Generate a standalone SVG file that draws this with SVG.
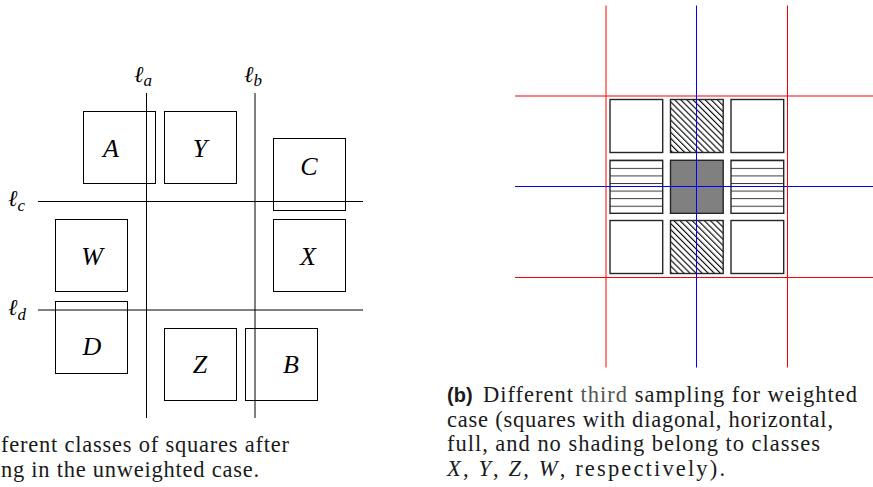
<svg xmlns="http://www.w3.org/2000/svg" width="873" height="487" viewBox="0 0 873 487">
  <style>
    .bg { fill: #ffffff; }
    .ln { stroke: #000; stroke-width: 1; fill: none; }
    .sq { fill: none; stroke: #000; stroke-width: 1; }
    .red { stroke: #ff0000; stroke-width: 1; fill: none; }
    .blue { stroke: #0000ff; stroke-width: 1; fill: none; }
    .cell { stroke: #262626; stroke-width: 1.4; }
    .lbl { font-family: "Liberation Serif", "DejaVu Serif", serif; font-style: italic; font-size: 26px; fill: #000; text-anchor: middle; }
    .ell { font-family: "Liberation Serif", "DejaVu Serif", serif; font-style: italic; font-size: 23px; fill: #000; }
    .sub { font-size: 17px; }
    .cap { font-family: "Liberation Serif", "DejaVu Serif", serif; font-size: 22.5px; fill: #1a1a1a; }
    .tag { font-family: "Liberation Sans", Arial, sans-serif; font-weight: bold; font-size: 20px; fill: #1a1a1a; }
    .it { font-style: italic; }
  </style>
  <defs>
    <!-- horizontal shading, period = cell height / 7 -->
    <pattern id="hlines" patternUnits="userSpaceOnUse" x="0" y="160.3" width="20" height="7.571">
      <line x1="0" y1="0" x2="20" y2="0" stroke="#3a3a3a" stroke-width="2"/>
    </pattern>
    <!-- diagonal shading, top-left to bottom-right -->
    <pattern id="dlines" patternUnits="userSpaceOnUse" width="12" height="4.3" patternTransform="rotate(45)">
      <line x1="0" y1="2" x2="12" y2="2" stroke="#000" stroke-width="1.1"/>
    </pattern>
  </defs>

  <rect class="bg" x="0" y="0" width="873" height="487"/>

  <!-- left figure: cutting lines -->
  <g id="lines-left">
    <line class="ln" x1="146.5" y1="93" x2="146.5" y2="418"/>
    <line class="ln" x1="255" y1="93" x2="255" y2="418"/>
    <line class="ln" x1="38" y1="201.5" x2="363" y2="201.5"/>
    <line class="ln" x1="38" y1="310" x2="363" y2="310"/>
  </g>
  <g id="line-labels">
    <text class="ell" x="134" y="82">ℓ<tspan class="sub" dy="4">a</tspan></text>
    <text class="ell" x="244" y="82">ℓ<tspan class="sub" dy="4">b</tspan></text>
    <text class="ell" x="8" y="206">ℓ<tspan class="sub" dy="5">c</tspan></text>
    <text class="ell" x="8" y="315">ℓ<tspan class="sub" dy="5">d</tspan></text>
  </g>

  <!-- left figure: squares -->
  <g id="sq-A"><rect class="sq" x="83.5" y="111.5" width="72" height="72"/><text class="lbl" x="111" y="157">A</text></g>
  <g id="sq-Y"><rect class="sq" x="164.5" y="111.5" width="72" height="72"/><text class="lbl" x="200" y="157">Y</text></g>
  <g id="sq-C"><rect class="sq" x="273.5" y="138.5" width="72" height="72"/><text class="lbl" x="309" y="175">C</text></g>
  <g id="sq-W"><rect class="sq" x="55.5" y="219.5" width="72" height="72"/><text class="lbl" x="92" y="265">W</text></g>
  <g id="sq-X"><rect class="sq" x="273.5" y="219.5" width="72" height="72"/><text class="lbl" x="308" y="265">X</text></g>
  <g id="sq-D"><rect class="sq" x="55.5" y="301.5" width="72" height="72"/><text class="lbl" x="92" y="355">D</text></g>
  <g id="sq-Z"><rect class="sq" x="164.5" y="328.5" width="72" height="72"/><text class="lbl" x="200" y="373">Z</text></g>
  <g id="sq-B"><rect class="sq" x="245.5" y="328.5" width="72" height="72"/><text class="lbl" x="291" y="373">B</text></g>

  <!-- left caption -->
  <g id="caption-a">
    <text class="cap" x="1" y="452" textLength="288" lengthAdjust="spacing">ferent classes of squares after</text>
    <text class="cap" x="1" y="477" textLength="258" lengthAdjust="spacing">ng in the unweighted case.</text>
  </g>

  <!-- right figure: 3x3 grid of cells -->
  <g id="cell-1-1"><rect class="cell" fill="#fff" x="610" y="99.5" width="52.7" height="53"/></g>
  <g id="cell-1-2"><rect class="cell" fill="url(#dlines)" x="670.5" y="99.5" width="52.7" height="53"/></g>
  <g id="cell-1-3"><rect class="cell" fill="#fff" x="731" y="99.5" width="52.7" height="53"/></g>
  <g id="cell-2-1"><rect class="cell" fill="url(#hlines)" x="610" y="160.3" width="52.7" height="53"/></g>
  <g id="cell-2-2"><rect class="cell" fill="#808080" x="670.5" y="160.3" width="52.7" height="53"/></g>
  <g id="cell-2-3"><rect class="cell" fill="url(#hlines)" x="731" y="160.3" width="52.7" height="53"/></g>
  <g id="cell-3-1"><rect class="cell" fill="#fff" x="610" y="220.5" width="52.7" height="53"/></g>
  <g id="cell-3-2"><rect class="cell" fill="url(#dlines)" x="670.5" y="220.5" width="52.7" height="53"/></g>
  <g id="cell-3-3"><rect class="cell" fill="#fff" x="731" y="220.5" width="52.7" height="53"/></g>

  <!-- right figure: sampling lines -->
  <g id="lines-right">
    <line class="red" x1="515" y1="96" x2="873" y2="96"/>
    <line class="blue" x1="515" y1="186.5" x2="873" y2="186.5"/>
    <line class="red" x1="515" y1="277.5" x2="873" y2="277.5"/>
    <line class="red" x1="606" y1="5.5" x2="606" y2="367.5"/>
    <line class="blue" x1="696.5" y1="5.5" x2="696.5" y2="367.5"/>
    <line class="red" x1="787.5" y1="5.5" x2="787.5" y2="367.5"/>
  </g>

  <!-- right caption -->
  <g id="caption-b">
    <text class="tag" x="447" y="402">(b)</text>
    <text class="cap" x="483" y="402" textLength="374" lengthAdjust="spacing">Different <tspan fill="#555">third</tspan> sampling for weighted</text>
    <text class="cap" x="447" y="426.5" textLength="386" lengthAdjust="spacing">case (squares with diagonal, horizontal,</text>
    <text class="cap" x="447" y="451" textLength="373" lengthAdjust="spacing">full, and no shading belong to classes</text>
    <text class="cap" x="447" y="475.5" textLength="278" lengthAdjust="spacing"><tspan class="it">X</tspan>, <tspan class="it">Y</tspan>, <tspan class="it">Z</tspan>, <tspan class="it">W</tspan>, respectively).</text>
  </g>
</svg>
